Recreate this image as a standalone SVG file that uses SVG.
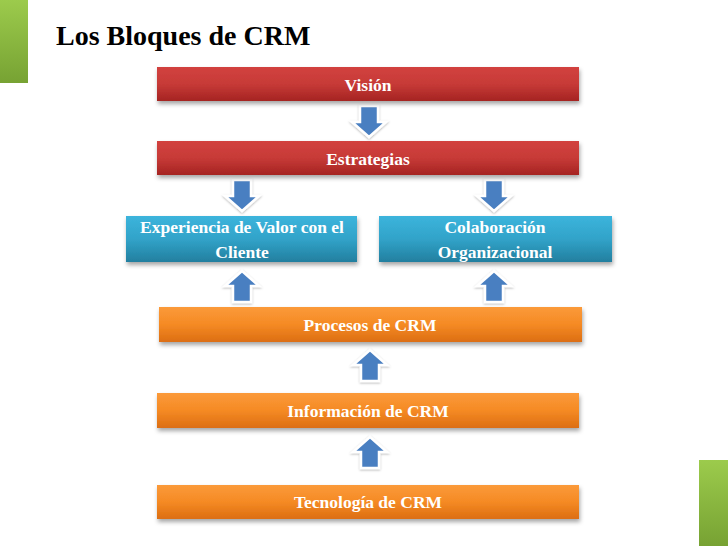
<svg xmlns="http://www.w3.org/2000/svg" width="728" height="546" viewBox="0 0 728 546">
<defs>
<linearGradient id="gRed" x1="0" y1="0" x2="0" y2="1"><stop offset="0" stop-color="#d2423f"/><stop offset="0.5" stop-color="#c73a37"/><stop offset="1" stop-color="#a52422"/></linearGradient>
<linearGradient id="gBlue" x1="0" y1="0" x2="0" y2="1"><stop offset="0" stop-color="#3cb4dc"/><stop offset="0.5" stop-color="#31a3c9"/><stop offset="1" stop-color="#237f9f"/></linearGradient>
<linearGradient id="gOrange" x1="0" y1="0" x2="0" y2="1"><stop offset="0" stop-color="#fb9a3a"/><stop offset="0.5" stop-color="#f58a24"/><stop offset="1" stop-color="#dc6e12"/></linearGradient>
<linearGradient id="gGreen" x1="0" y1="0" x2="0" y2="1"><stop offset="0" stop-color="#9ccb4c"/><stop offset="1" stop-color="#77a233"/></linearGradient>
<filter id="sh" x="-5%" y="-20%" width="110%" height="160%"><feDropShadow dx="1" dy="3" stdDeviation="2" flood-color="#000" flood-opacity="0.35"/></filter>
<filter id="ash" x="-30%" y="-30%" width="160%" height="160%"><feDropShadow dx="0" dy="1" stdDeviation="1.2" flood-color="#000" flood-opacity="0.3"/></filter>
<path id="down" d="M-9,-16 H9 V0 H17 L0,15 L-17,0 H-9 Z"/>
<path id="up" d="M-9,16 H9 V0 H17 L0,-15 L-17,0 H-9 Z"/>
</defs>
<style>
.t{font-family:"Liberation Serif","Times New Roman",serif;font-weight:bold;fill:#fff;font-size:17.5px;text-anchor:middle}
.title{font-family:"Liberation Serif","Times New Roman",serif;font-weight:bold;fill:#000;font-size:28px}
.arr{fill:#4a7fc1;stroke:#fff;stroke-width:2.5;stroke-linejoin:miter;filter:url(#ash)}
</style>
<rect x="0" y="0" width="28" height="83" fill="url(#gGreen)"/>
<rect x="699" y="460" width="29" height="86" fill="url(#gGreen)"/>
<text class="title" x="56" y="45">Los Bloques de CRM</text>
<g id="connectors">
<use href="#down" class="arr" x="369" y="122"/>
<use href="#down" class="arr" x="242" y="196"/>
<use href="#down" class="arr" x="494" y="196"/>
<use href="#up" class="arr" x="242" y="286"/>
<use href="#up" class="arr" x="494" y="286"/>
<use href="#up" class="arr" x="370" y="365"/>
<use href="#up" class="arr" x="370" y="452"/>
</g>
<g id="vision"><rect x="157" y="67" width="422" height="34" fill="url(#gRed)" filter="url(#sh)"/><text class="t" x="368" y="91">Visión</text></g>
<g id="estrategias"><rect x="157" y="141" width="422" height="34" fill="url(#gRed)" filter="url(#sh)"/><text class="t" x="368" y="165">Estrategias</text></g>
<g id="experiencia"><rect x="126" y="216" width="231" height="46" fill="url(#gBlue)" filter="url(#sh)"/><text class="t" x="242" y="233">Experiencia de Valor con el</text><text class="t" x="242" y="258">Cliente</text></g>
<g id="colaboracion"><rect x="379" y="216" width="233" height="46" fill="url(#gBlue)" filter="url(#sh)"/><text class="t" x="495" y="233">Colaboración</text><text class="t" x="495" y="258">Organizacional</text></g>
<g id="procesos"><rect x="159" y="307" width="423" height="35" fill="url(#gOrange)" filter="url(#sh)"/><text class="t" x="370" y="331">Procesos de CRM</text></g>
<g id="informacion"><rect x="157" y="393" width="422" height="35" fill="url(#gOrange)" filter="url(#sh)"/><text class="t" x="368" y="417">Información de CRM</text></g>
<g id="tecnologia"><rect x="157" y="485" width="422" height="34" fill="url(#gOrange)" filter="url(#sh)"/><text class="t" x="368" y="508">Tecnología de CRM</text></g>
</svg>
